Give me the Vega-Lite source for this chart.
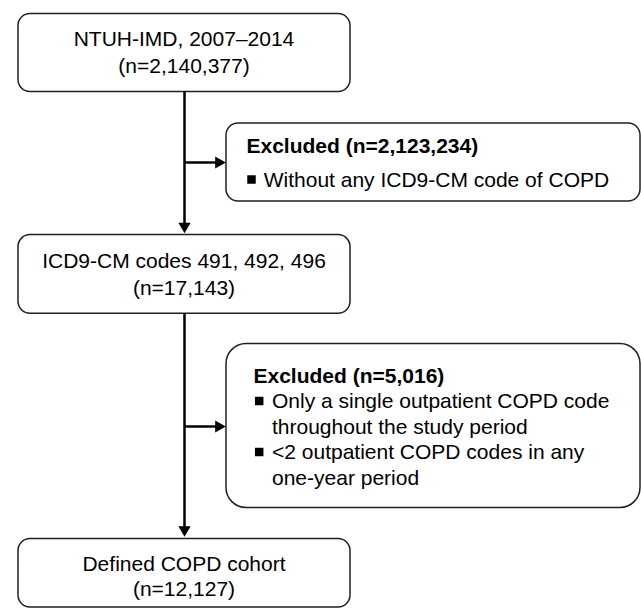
{
  "$schema": "https://vega.github.io/schema/vega-lite/v6.json",
  "width": 641,
  "height": 610,
  "padding": 0,
  "autosize": {"type": "fit", "contains": "padding"},
  "background": "white",
  "config": {
    "view": {"stroke": null},
    "text": {"font": "Liberation Sans", "fontSize": 21, "color": "#000000"}
  },
  "datasets": {
    "boxes": [
      {"id": "start", "x1": 18, "x2": 350, "y1": 13.5, "y2": 91.5},
      {"id": "excl1", "x1": 226, "x2": 640, "y1": 123, "y2": 201},
      {"id": "mid", "x1": 18, "x2": 350, "y1": 234.6, "y2": 313.3},
      {"id": "excl2", "x1": 226, "x2": 640, "y1": 343.5, "y2": 507.5},
      {"id": "end", "x1": 18, "x2": 350, "y1": 538.5, "y2": 607}
    ],
    "links": [
      {"x1": 184.5, "x2": 184.5, "y1": 91.5, "y2": 228},
      {"x1": 184.5, "x2": 217, "y1": 162.5, "y2": 162.5},
      {"x1": 184.5, "x2": 184.5, "y1": 313.3, "y2": 531},
      {"x1": 184.5, "x2": 217, "y1": 426.5, "y2": 426.5}
    ],
    "heads": [
      {"x": 184.5, "y": 228, "dir": "down"},
      {"x": 220.5, "y": 162.5, "dir": "right"},
      {"x": 184.5, "y": 531.5, "dir": "down"},
      {"x": 220.5, "y": 426.5, "dir": "right"}
    ],
    "bullets": [
      {"x": 251.5, "y": 179.5},
      {"x": 259.2, "y": 401},
      {"x": 259.2, "y": 452}
    ],
    "labels": [
      {"role": "main", "x": 184, "y": 40, "text": "NTUH-IMD, 2007–2014"},
      {"role": "main", "x": 184, "y": 67, "text": "(n=2,140,377)"},
      {"role": "main", "x": 184, "y": 262, "text": "ICD9-CM codes 491, 492, 496"},
      {"role": "main", "x": 184, "y": 288.5, "text": "(n=17,143)"},
      {"role": "main", "x": 184, "y": 565, "text": "Defined COPD cohort"},
      {"role": "main", "x": 184, "y": 589.5, "text": "(n=12,127)"},
      {"role": "title", "x": 246.5, "y": 147, "text": "Excluded (n=2,123,234)"},
      {"role": "item", "x": 263.7, "y": 181, "text": "Without any ICD9-CM code of COPD"},
      {"role": "title", "x": 253.5, "y": 376.5, "text": "Excluded (n=5,016)"},
      {"role": "item", "x": 272, "y": 402, "text": "Only a single outpatient COPD code"},
      {"role": "item", "x": 272, "y": 427.5, "text": "throughout the study period"},
      {"role": "item", "x": 272, "y": 453, "text": "<2 outpatient COPD codes in any"},
      {"role": "item", "x": 272, "y": 478.5, "text": "one-year period"}
    ]
  },
  "layer": [
    {
      "data": {"name": "boxes"},
      "transform": [{"filter": "datum.id != 'excl2'"}],
      "mark": {"type": "rect", "fill": "white", "stroke": "#231f20", "strokeWidth": 1.5, "cornerRadius": 12},
      "encoding": {
        "x": {"field": "x1", "type": "quantitative", "scale": {"domain": [0, 641], "nice": false, "zero": false}, "axis": null},
        "x2": {"field": "x2"},
        "y": {"field": "y1", "type": "quantitative", "scale": {"domain": [0, 610], "nice": false, "zero": false, "reverse": true}, "axis": null},
        "y2": {"field": "y2"}
      }
    },
    {
      "data": {"name": "boxes"},
      "transform": [{"filter": "datum.id == 'excl2'"}],
      "mark": {"type": "rect", "fill": "white", "stroke": "#231f20", "strokeWidth": 1.5, "cornerRadius": 20},
      "encoding": {
        "x": {"field": "x1", "type": "quantitative", "scale": {"domain": [0, 641], "nice": false, "zero": false}, "axis": null},
        "x2": {"field": "x2"},
        "y": {"field": "y1", "type": "quantitative", "scale": {"domain": [0, 610], "nice": false, "zero": false, "reverse": true}, "axis": null},
        "y2": {"field": "y2"}
      }
    },
    {
      "data": {"name": "links"},
      "mark": {"type": "rule", "color": "#000000", "strokeWidth": 2.5},
      "encoding": {
        "x": {"field": "x1", "type": "quantitative", "scale": {"domain": [0, 641], "nice": false, "zero": false}, "axis": null},
        "x2": {"field": "x2"},
        "y": {"field": "y1", "type": "quantitative", "scale": {"domain": [0, 610], "nice": false, "zero": false, "reverse": true}, "axis": null},
        "y2": {"field": "y2"}
      }
    },
    {
      "data": {"name": "heads"},
      "mark": {"type": "point", "filled": true, "color": "#000000", "opacity": 1, "size": 150},
      "encoding": {
        "x": {"field": "x", "type": "quantitative", "scale": {"domain": [0, 641], "nice": false, "zero": false}, "axis": null},
        "y": {"field": "y", "type": "quantitative", "scale": {"domain": [0, 610], "nice": false, "zero": false, "reverse": true}, "axis": null},
        "shape": {"field": "dir", "type": "nominal", "scale": {"domain": ["down", "right"], "range": ["triangle-down", "triangle-right"]}, "legend": null}
      }
    },
    {
      "data": {"name": "bullets"},
      "mark": {"type": "point", "shape": "square", "filled": true, "color": "#000000", "opacity": 1, "size": 72},
      "encoding": {
        "x": {"field": "x", "type": "quantitative", "scale": {"domain": [0, 641], "nice": false, "zero": false}, "axis": null},
        "y": {"field": "y", "type": "quantitative", "scale": {"domain": [0, 610], "nice": false, "zero": false, "reverse": true}, "axis": null}
      }
    },
    {
      "data": {"name": "labels"},
      "transform": [{"filter": "datum.role == 'main'"}],
      "mark": {"type": "text", "align": "center", "baseline": "middle"},
      "encoding": {
        "x": {"field": "x", "type": "quantitative", "scale": {"domain": [0, 641], "nice": false, "zero": false}, "axis": null},
        "y": {"field": "y", "type": "quantitative", "scale": {"domain": [0, 610], "nice": false, "zero": false, "reverse": true}, "axis": null},
        "text": {"field": "text", "type": "nominal"}
      }
    },
    {
      "data": {"name": "labels"},
      "transform": [{"filter": "datum.role == 'title'"}],
      "mark": {"type": "text", "align": "left", "baseline": "middle", "fontWeight": "bold"},
      "encoding": {
        "x": {"field": "x", "type": "quantitative", "scale": {"domain": [0, 641], "nice": false, "zero": false}, "axis": null},
        "y": {"field": "y", "type": "quantitative", "scale": {"domain": [0, 610], "nice": false, "zero": false, "reverse": true}, "axis": null},
        "text": {"field": "text", "type": "nominal"}
      }
    },
    {
      "data": {"name": "labels"},
      "transform": [{"filter": "datum.role == 'item'"}],
      "mark": {"type": "text", "align": "left", "baseline": "middle"},
      "encoding": {
        "x": {"field": "x", "type": "quantitative", "scale": {"domain": [0, 641], "nice": false, "zero": false}, "axis": null},
        "y": {"field": "y", "type": "quantitative", "scale": {"domain": [0, 610], "nice": false, "zero": false, "reverse": true}, "axis": null},
        "text": {"field": "text", "type": "nominal"}
      }
    }
  ]
}
